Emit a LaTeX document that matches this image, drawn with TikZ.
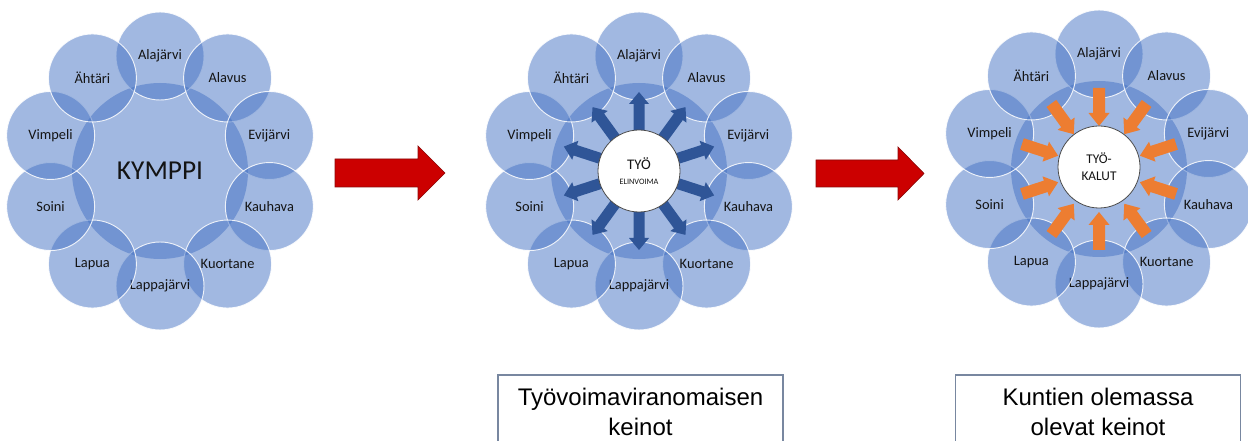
\documentclass[tikz,border=0pt]{standalone}
\usepackage{fontspec}
\setmainfont{Carlito}
\newfontfamily\arialf{Liberation Sans}
\usetikzlibrary{calc}
\definecolor{satblue}{RGB}{68,114,196}
\definecolor{arrblue}{RGB}{47,85,151}
\definecolor{arrorange}{RGB}{237,125,49}
\definecolor{redarrow}{RGB}{204,0,0}
\definecolor{redborder}{RGB}{140,10,10}
\definecolor{boxedge}{RGB}{120,135,160}
\definecolor{labeltext}{RGB}{20,20,20}
\tikzset{
  sat/.style={circle, minimum size=66pt, inner sep=0pt, fill=satblue, fill opacity=0.5,
    text opacity=1, draw=white, draw opacity=0.85, line width=0.7pt, text=labeltext,
    font=\fontsize{10.8}{12}\selectfont},
  hub/.style={circle, minimum size=132pt, inner sep=0pt, fill=satblue, fill opacity=0.5,
    text opacity=1, draw=none, text=labeltext},
  core/.style={circle, minimum size=61.5pt, inner sep=0pt, fill=white, draw=black!70,
    line width=0.6pt, align=center, text=labeltext},
  infobox/.style={draw=boxedge, line width=1.1pt, fill=white, minimum width=213.75pt,
    minimum height=55.5pt, align=center, inner sep=0pt,
    font=\arialf\fontsize{18}{22.5}\selectfont, text=black},
  bigarrow/.style={fill=redarrow, draw=redborder, line width=0.5pt},
  outarrow/.style={fill=arrblue},
  inarrow/.style={fill=arrorange}
}
\begin{document}
\begin{tikzpicture}[x=0.75pt, y=0.75pt]
\useasboundingbox (0,0) rectangle (1248,-441);
\fill[white] (0,0) rectangle (1248,-441);
\clip (0,0) rectangle (1248,-441);

% ---------- cluster A ----------
\node[hub, font=\fontsize{20.5}{24}\selectfont] (hubA) at (160,-171) {KYMPPI};
\foreach \t [count=\i from 0] in {Alajärvi, Alavus, Evijärvi, Kauhava, Kuortane, Lappajärvi, Lapua, Soini, Vimpeli, Ähtäri}
  \node[sat] (A\i) at ($(hubA.center)+({90-36*\i}:115)$) {\t};

% ---------- cluster B ----------
\node[hub] (hubB) at (639,-171) {};
\foreach \t [count=\i from 0] in {Alajärvi, Alavus, Evijärvi, Kauhava, Kuortane, Lappajärvi, Lapua, Soini, Vimpeli, Ähtäri}
  \node[sat] (B\i) at ($(hubB.center)+({90-36*\i}:115)$) {\t};
\foreach \i in {0,...,9}{
  \begin{scope}[shift={(hubB.center)}, rotate={90-36*\i}]
    \fill[outarrow] (40,-5.5) -- (67,-5.5) -- (67,-10) -- (79,0) -- (67,10) -- (67,5.5) -- (40,5.5) -- cycle;
  \end{scope}
}
\node[core] (coreB) at (639,-171) {{\fontsize{11}{12}\selectfont TYÖ}\\[-1pt]{\fontsize{6.2}{7}\selectfont ELINVOIMA}};

% ---------- cluster C ----------
\node[hub] (hubC) at (1099,-169) {};
\foreach \t [count=\i from 0] in {Alajärvi, Alavus, Evijärvi, Kauhava, Kuortane, Lappajärvi, Lapua, Soini, Vimpeli, Ähtäri}
  \node[sat] (C\i) at ($(hubC.center)+({90-36*\i}:115)$) {\t};
\foreach \i in {0,...,9}{
  \begin{scope}[shift={(hubC.center)}, rotate={90-36*\i}]
    \fill[inarrow] (81,-6) -- (56,-6) -- (56,-10.5) -- (43,0) -- (56,10.5) -- (56,6) -- (81,6) -- cycle;
  \end{scope}
}
\node[core, font=\fontsize{10}{13}\selectfont] (coreC) at (1099,-167) {TYÖ-\\KALUT};

% ---------- red arrows ----------
\path[bigarrow] (335,-159) -- (418,-159) -- (418,-146) -- (445,-173) -- (418,-200) -- (418,-187) -- (335,-187) -- cycle;
\path[bigarrow] (816,-160) -- (898,-160) -- (898,-147) -- (924,-173.5) -- (898,-200) -- (898,-187) -- (816,-187) -- cycle;

% ---------- boxes ----------
\node[infobox] (boxB) at (640.5,-412) {Työvoimaviranomaisen\\keinot};
\node[infobox] (boxC) at (1098,-412) {Kuntien olemassa\\olevat keinot};
\end{tikzpicture}
\end{document}
